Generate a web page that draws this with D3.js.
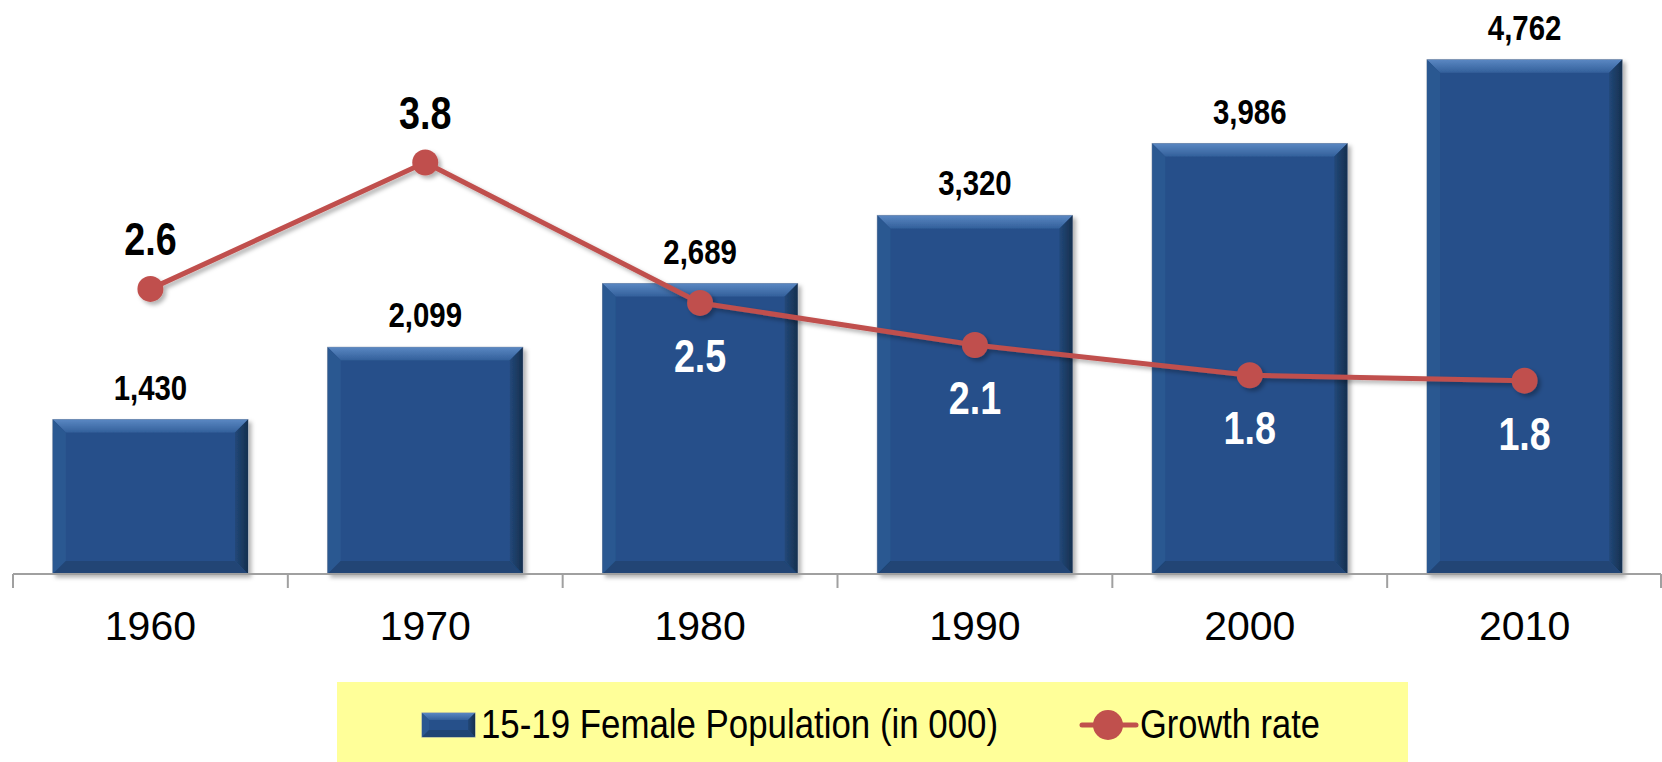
<!DOCTYPE html>
<html>
<head>
<meta charset="utf-8">
<script src="https://cdn.jsdelivr.net/npm/d3@7"></script>
<style>
  html, body { margin: 0; padding: 0; background: #fff; }
  svg { display: block; }
</style>
</head>
<body>
<div id="chart"></div>
<script>
const years = ["1960", "1970", "1980", "1990", "2000", "2010"];
const population = [1430, 2099, 2689, 3320, 3986, 4762];
const growth = [2.64, 3.81, 2.51, 2.12, 1.84, 1.79];
const growthAbove = [true, true, false, false, false, false];
const legendLabels = ["15-19 Female Population (in 000)", "Growth rate"];

const width = 1662;
const height = 762;
const base = 574;
const plotTop = 34;

const blue = "#26508A";
const red = "#C0504D";

const svg = d3.select("#chart")
  .append("svg")
  .attr("width", width)
  .attr("height", height);

const defs = svg.append("defs");
const topGrad = defs.append("linearGradient")
  .attr("id", "topGrad").attr("x1", 0).attr("y1", 0).attr("x2", 0).attr("y2", 1);
topGrad.append("stop").attr("offset", "0%").attr("stop-color", "#5A87C2");
topGrad.append("stop").attr("offset", "100%").attr("stop-color", "#33609B");

const rightGrad = defs.append("linearGradient")
  .attr("id", "rightGrad").attr("x1", 0).attr("y1", 0).attr("x2", 1).attr("y2", 0);
rightGrad.append("stop").attr("offset", "0%").attr("stop-color", "#224879");
rightGrad.append("stop").attr("offset", "100%").attr("stop-color", "#16304F");

const shadow = defs.append("filter").attr("id", "shadow")
  .attr("x", "-10%").attr("y", "-10%").attr("width", "130%").attr("height", "140%");
shadow.append("feDropShadow")
  .attr("dx", 3).attr("dy", 3).attr("stdDeviation", 2)
  .attr("flood-color", "#000").attr("flood-opacity", 0.3);

const x = d3.scaleBand()
  .domain(years)
  .range([13, 1662])
  .paddingInner(0.29)
  .paddingOuter(0.145);

const y = d3.scaleLinear().domain([0, 5000]).range([base, plotTop]);
const y2 = d3.scaleLinear().domain([0, 5]).range([base, plotTop]);

// bevelled bar like the office charts
function bevelBar(g, x0, y0, w, h, b) {
  g.append("rect")
    .attr("x", x0).attr("y", y0).attr("width", w).attr("height", h)
    .attr("fill", blue)
    .attr("stroke", "#8593A8").attr("stroke-width", 1);
  const pts = (a) => a.map(p => p.join(",")).join(" ");
  g.append("polygon")
    .attr("points", pts([[x0, y0], [x0 + w, y0], [x0 + w - b, y0 + b], [x0 + b, y0 + b]]))
    .attr("fill", "url(#topGrad)");
  g.append("polygon")
    .attr("points", pts([[x0, y0], [x0 + b, y0 + b], [x0 + b, y0 + h - b], [x0, y0 + h]]))
    .attr("fill", "#2B5891");
  g.append("polygon")
    .attr("points", pts([[x0 + w, y0], [x0 + w, y0 + h], [x0 + w - b, y0 + h - b], [x0 + w - b, y0 + b]]))
    .attr("fill", "url(#rightGrad)");
  g.append("polygon")
    .attr("points", pts([[x0, y0 + h], [x0 + b, y0 + h - b], [x0 + w - b, y0 + h - b], [x0 + w, y0 + h]]))
    .attr("fill", "#204574");
}

const bars = svg.append("g");
years.forEach((yr, i) => {
  const g = bars.append("g").attr("filter", "url(#shadow)");
  bevelBar(g, x(yr), y(population[i]), x.bandwidth(), base - y(population[i]), 13);
});

// x axis
const axis = svg.append("g");
axis.append("line")
  .attr("x1", 13).attr("x2", 1661).attr("y1", base).attr("y2", base)
  .attr("stroke", "#A0A0A0").attr("stroke-width", 2);
const bounds = years.map(yr => x(yr) - x.step() * 0.145).concat([x(years[5]) + x.bandwidth() + x.step() * 0.145 - 1]);
axis.selectAll("line.tick")
  .data(bounds)
  .enter().append("line")
  .attr("class", "tick")
  .attr("x1", d => d).attr("x2", d => d)
  .attr("y1", base).attr("y2", base + 14)
  .attr("stroke", "#A0A0A0").attr("stroke-width", 2);
axis.selectAll("text")
  .data(years)
  .enter().append("text")
  .attr("x", d => x(d) + x.bandwidth() / 2)
  .attr("y", 640)
  .attr("text-anchor", "middle")
  .attr("font-family", "Liberation Sans, Arial, sans-serif")
  .attr("font-size", 41)
  .attr("fill", "#000")
  .text(d => d);

// bar value labels
svg.append("g").selectAll("text")
  .data(years)
  .enter().append("text")
  .attr("transform", (d, i) => `translate(${x(d) + x.bandwidth() / 2},${y(population[i]) - 20}) scale(0.84,1)`)
  .attr("text-anchor", "middle")
  .attr("font-family", "Liberation Sans, Arial, sans-serif")
  .attr("font-weight", "bold")
  .attr("font-size", 35)
  .attr("fill", "#000")
  .text((d, i) => d3.format(",")(population[i]));

// growth line
const pts = years.map((yr, i) => [x(yr) + x.bandwidth() / 2, y2(growth[i])]);
const lg = svg.append("g").attr("filter", "url(#shadow)");
lg.append("path")
  .attr("d", d3.line()(pts))
  .attr("fill", "none")
  .attr("stroke", red)
  .attr("stroke-width", 5)
  .attr("stroke-linejoin", "round");
lg.selectAll("circle")
  .data(pts)
  .enter().append("circle")
  .attr("cx", d => d[0]).attr("cy", d => d[1])
  .attr("r", 13)
  .attr("fill", red);

svg.append("g").selectAll("text")
  .data(years)
  .enter().append("text")
  .attr("transform", (d, i) => {
    const py = y2(growth[i]) + (growthAbove[i] ? -34 : 69);
    return `translate(${x(d) + x.bandwidth() / 2},${py}) scale(0.82,1)`;
  })
  .attr("text-anchor", "middle")
  .attr("font-family", "Liberation Sans, Arial, sans-serif")
  .attr("font-weight", "bold")
  .attr("font-size", 46)
  .attr("fill", (d, i) => growthAbove[i] ? "#000" : "#fff")
  .text((d, i) => growth[i].toFixed(1));

// legend
const leg = svg.append("g");
leg.append("rect")
  .attr("x", 337).attr("y", 682).attr("width", 1071).attr("height", 80)
  .attr("fill", "#FFFF99");
bevelBar(leg.append("g"), 422, 713, 53, 24, 7);
leg.append("text")
  .attr("transform", "translate(481,738) scale(0.85,1)")
  .attr("font-family", "Liberation Sans, Arial, sans-serif")
  .attr("font-size", 41)
  .attr("fill", "#000")
  .text(legendLabels[0]);
leg.append("line")
  .attr("x1", 1082).attr("x2", 1136).attr("y1", 725).attr("y2", 725)
  .attr("stroke", red).attr("stroke-width", 5).attr("stroke-linecap", "round");
leg.append("circle")
  .attr("cx", 1108).attr("cy", 725).attr("r", 15)
  .attr("fill", red);
leg.append("text")
  .attr("transform", "translate(1140,738) scale(0.84,1)")
  .attr("font-family", "Liberation Sans, Arial, sans-serif")
  .attr("font-size", 41)
  .attr("fill", "#000")
  .text(legendLabels[1]);
</script>
</body>
</html>
